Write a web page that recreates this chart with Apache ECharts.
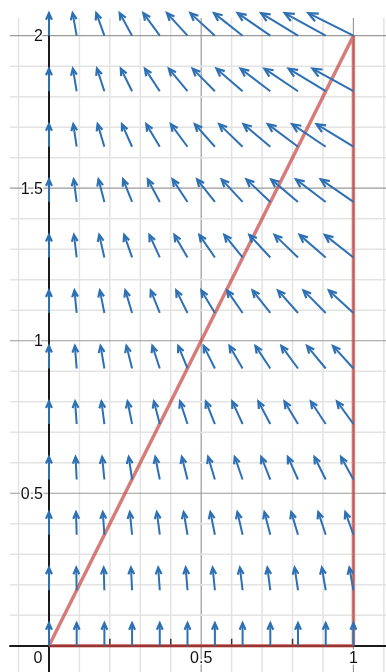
<!DOCTYPE html>
<html>
<head>
<meta charset="utf-8">
<script src="https://cdn.jsdelivr.net/npm/echarts@6/dist/echarts.min.js"></script>
<style>
  html, body { margin: 0; padding: 0; background: #fff; }
  #chart { width: 386px; height: 672px; }
</style>
</head>
<body>
<div id="chart"></div>
<script>
// arrow tails, columns and rows of the field
const colX = [0, 0.091, 0.182, 0.273, 0.364, 0.455, 0.545, 0.636, 0.727, 0.818, 0.909, 1];
const rowY = [0, 0.182, 0.364, 0.545, 0.727, 0.909, 1.091, 1.273, 1.455, 1.636, 1.818, 2];

// horizontal part of each arrow, one row per rowY (bottom to top); the upward part is 1
const arrowDx = [
  [0, 0, 0, 0, 0, 0, 0, 0, 0, 0, 0, 0],
  [0, -0.02, -0.03, -0.05, -0.07, -0.08, -0.10, -0.12, -0.13, -0.15, -0.17, -0.18],
  [0, -0.03, -0.07, -0.10, -0.13, -0.17, -0.20, -0.23, -0.26, -0.30, -0.33, -0.36],
  [0, -0.05, -0.10, -0.15, -0.20, -0.25, -0.30, -0.35, -0.40, -0.45, -0.50, -0.55],
  [0, -0.07, -0.13, -0.20, -0.26, -0.33, -0.40, -0.46, -0.53, -0.60, -0.66, -0.73],
  [0, -0.08, -0.17, -0.25, -0.33, -0.41, -0.50, -0.58, -0.66, -0.74, -0.83, -0.91],
  [0, -0.10, -0.20, -0.30, -0.40, -0.50, -0.60, -0.69, -0.79, -0.89, -0.99, -1.09],
  [0, -0.12, -0.23, -0.35, -0.46, -0.58, -0.69, -0.81, -0.93, -1.04, -1.16, -1.27],
  [0, -0.13, -0.26, -0.40, -0.53, -0.66, -0.79, -0.93, -1.06, -1.19, -1.32, -1.45],
  [0, -0.15, -0.30, -0.45, -0.60, -0.74, -0.89, -1.04, -1.19, -1.34, -1.49, -1.64],
  [0, -0.17, -0.33, -0.50, -0.66, -0.83, -0.99, -1.16, -1.32, -1.49, -1.65, -1.82],
  [0, -0.18, -0.36, -0.55, -0.73, -0.91, -1.09, -1.27, -1.45, -1.64, -1.82, -2]
];
const arrowDy = 1;

// red outline
const regionX = [0, 1, 1, 0];
const regionY = [0, 2, 0, 0];

// tick labels
const xTickLabels = ['0', '0.5', '1'];
const yTickLabels = ['0.5', '1', '1.5', '2'];
const smallTicksX = [0.2, 0.4, 0.6, 0.8];

const X_MIN = -0.128, X_MAX = 1.107;
const Y_MIN = -0.086, Y_MAX = 2.058;
const ARROW_SCALE = 0.074;
const BLUE = '#2d70b3';
const FONT = '16px Arial, "Liberation Sans", sans-serif';

const chart = echarts.init(document.getElementById('chart'));

const arrowData = [];
rowY.forEach((y, r) => {
  colX.forEach((x, c) => {
    arrowData.push([x, y, arrowDx[r][c], arrowDy]);
  });
});

// grid paper: [value, horizontal?, major?]
const gridData = [];
for (let i = -1; i <= 11; i++) {
  if (i === 0) continue;
  gridData.push([i / 10, 0, i % 5 === 0 ? 1 : 0]);
}
for (let i = 1; i <= 20; i++) {
  gridData.push([i / 10, 1, i % 5 === 0 ? 1 : 0]);
}

// labels: [x, y, which axis]
const labelData = xTickLabels.map(t => [Number(t), 0, 0])
  .concat(yTickLabels.map(t => [0, Number(t), 1]));

const option = {
  animation: false,
  grid: { left: 10, right: 0, top: 18, bottom: 0, containLabel: false, outerBoundsMode: 'none' },
  xAxis: {
    type: 'value',
    min: X_MIN,
    max: X_MAX,
    axisLine: { onZero: true, lineStyle: { color: '#1a1a1a', width: 2 } },
    axisTick: { show: false },
    splitLine: { show: false },
    axisLabel: { show: false }
  },
  yAxis: {
    type: 'value',
    min: Y_MIN,
    max: Y_MAX,
    axisLine: { onZero: true, lineStyle: { color: '#1a1a1a', width: 2 } },
    axisTick: { show: false },
    splitLine: { show: false },
    axisLabel: { show: false }
  },
  series: [
    {
      // grid lines
      type: 'custom',
      z: -1,
      silent: true,
      clip: true,
      data: gridData,
      renderItem: (params, api) => {
        const v = api.value(0);
        const horiz = api.value(1) === 1;
        const major = api.value(2) === 1;
        const p0 = horiz ? api.coord([X_MIN, v]) : api.coord([v, Y_MIN]);
        const p1 = horiz ? api.coord([X_MAX, v]) : api.coord([v, Y_MAX]);
        return {
          type: 'line',
          shape: { x1: p0[0], y1: p0[1], x2: p1[0], y2: p1[1] },
          style: { stroke: major ? '#9a9a9a' : '#e3e3e3', lineWidth: major ? 1.2 : 1.5 }
        };
      }
    },
    {
      // little marks on the x axis
      type: 'custom',
      z: 1,
      silent: true,
      data: smallTicksX.map(v => [v, 0]),
      renderItem: (params, api) => {
        const p = api.coord([api.value(0), 0]);
        return {
          type: 'line',
          shape: { x1: p[0], y1: p[1], x2: p[0], y2: p[1] - 7 },
          style: { stroke: '#333', lineWidth: 1.5 }
        };
      }
    },
    {
      // tick labels beside the axes
      type: 'custom',
      z: 1,
      silent: true,
      clip: false,
      data: labelData,
      renderItem: (params, api) => {
        const x = api.value(0), y = api.value(1);
        const onY = api.value(2) === 1;
        const p = api.coord([x, y]);
        let px, py, align, vAlign;
        if (onY) {
          px = p[0] - 6; py = p[1] + 1; align = 'right'; vAlign = 'middle';
        } else {
          px = x === 0 ? p[0] - 11 : p[0]; py = p[1] + 5; align = 'center'; vAlign = 'top';
        }
        return {
          type: 'text',
          x: px,
          y: py,
          style: {
            text: String(onY ? y : x),
            font: FONT,
            fill: '#111',
            stroke: '#fff',
            lineWidth: 3,
            align: align,
            verticalAlign: vAlign
          }
        };
      }
    },
    {
      type: 'line',
      z: 2,
      silent: true,
      symbol: 'none',
      data: regionX.map((x, i) => [x, regionY[i]]),
      lineStyle: { color: '#c74440', width: 3.5, opacity: 0.7 }
    },
    {
      // vector field
      type: 'custom',
      z: 3,
      silent: true,
      clip: false,
      data: arrowData,
      renderItem: (params, api) => {
        const x = api.value(0), y = api.value(1);
        const dx = api.value(2), dy = api.value(3);
        const p0 = api.coord([x, y]);
        const p1 = api.coord([x + dx * ARROW_SCALE, y + dy * ARROW_SCALE]);
        const ang = Math.atan2(p1[1] - p0[1], p1[0] - p0[0]);
        const len = Math.hypot(p1[0] - p0[0], p1[1] - p0[1]);
        const h = Math.min(10.5, 4.5 + 0.12 * len);
        const a = 0.42;
        const b1 = [p1[0] - h * Math.cos(ang - a), p1[1] - h * Math.sin(ang - a)];
        const b2 = [p1[0] - h * Math.cos(ang + a), p1[1] - h * Math.sin(ang + a)];
        return {
          type: 'group',
          children: [
            {
              type: 'line',
              shape: { x1: p0[0], y1: p0[1], x2: p1[0], y2: p1[1] },
              style: { stroke: BLUE, lineWidth: 2 }
            },
            {
              type: 'polyline',
              shape: { points: [b1, p1, b2] },
              style: { stroke: BLUE, lineWidth: 2.2, fill: null, lineJoin: 'miter' }
            }
          ]
        };
      }
    }
  ]
};

chart.setOption(option);
</script>
</body>
</html>
